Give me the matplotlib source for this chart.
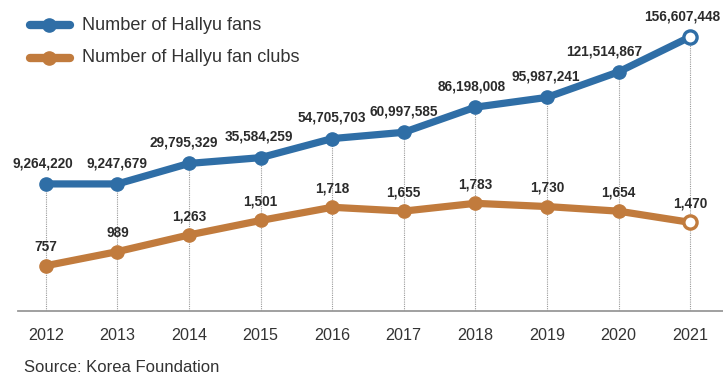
import matplotlib.pyplot as plt

plt.rcParams['font.family'] = ['Liberation Sans', 'DejaVu Sans']

years = [2012, 2013, 2014, 2015, 2016, 2017, 2018, 2019, 2020, 2021]
fans = [9264220, 9247679, 29795329, 35584259, 54705703, 60997585,
        86198008, 95987241, 121514867, 156607448]
clubs = [757, 989, 1263, 1501, 1718, 1655, 1783, 1730, 1654, 1470]

blue = '#2f6ea6'
orange = '#c17b3d'
txt = '#2b2b2b'

# small sideways nudges (in points) for the top-line labels
fan_nudge = [-2, 0, -4, -1, 0, 0, -3, -1, -10, -6]
club_nudge = [0] * len(years)

fig = plt.figure(figsize=(7.23, 3.78), dpi=100)
ax = fig.add_axes([18 / 723, 1 - 311 / 378, 705 / 723, 311 / 378])
ax2 = ax.twinx()

ax.set_xlim(2011.61, 2021.46)
ax.set_ylim(-118.1e6, 193.6e6)
ax2.set_ylim(12, 5127)

# dotted guides from baseline to the top line
ax.vlines(years, -118.1e6, fans, colors='#9a9a9a', linestyles=(0, (1, 1)),
          linewidth=0.8, zorder=1)

for a, vals, c, nud, dy in [(ax, fans, blue, fan_nudge, 15),
                            (ax2, clubs, orange, club_nudge, 13.5)]:
    a.plot(years, vals, color=c, lw=5.2, zorder=3)
    a.plot(years[:-1], vals[:-1], 'o', color=c, ms=9.5, zorder=4)
    a.plot(years[-1:], vals[-1:], 'o', color=c, mfc='white', mew=2.4, ms=9.5, zorder=5)
    for x, v, n in zip(years, vals, nud):
        a.annotate(f'{v:,}', (x, v), xytext=(n, dy), textcoords='offset points',
                   ha='center', va='center', fontsize=9.8, fontweight='bold',
                   color=txt, zorder=6)

for a in (ax, ax2):
    a.set_yticks([])
    for s in ['top', 'left', 'right']:
        a.spines[s].set_visible(False)
ax2.spines['bottom'].set_visible(False)
ax.spines['bottom'].set_color('#999999')
ax.spines['bottom'].set_linewidth(1.3)
ax.set_xticks(years)
ax.set_xticklabels([str(y) for y in years], fontsize=11.6, color='#333333')
ax.tick_params(axis='x', length=0, pad=12)

# legend drawn by hand at the top left
for i, (lab, c) in enumerate([('Number of Hallyu fans', blue),
                              ('Number of Hallyu fan clubs', orange)]):
    y = 1 - (25 + 33 * i) / 378
    fig.add_artist(plt.Line2D([30 / 723, 70 / 723], [y, y], color=c, lw=6,
                              solid_capstyle='round'))
    fig.add_artist(plt.Line2D([49 / 723], [y], marker='o', color=c, ms=9.5))
    fig.text(82 / 723, y, lab, fontsize=13.1, color='#333333', va='center')

fig.text(24 / 723, 1 - 367 / 378, 'Source: Korea Foundation', fontsize=12,
         color='#333333', va='center')

fig.savefig('out.png', dpi=100)
